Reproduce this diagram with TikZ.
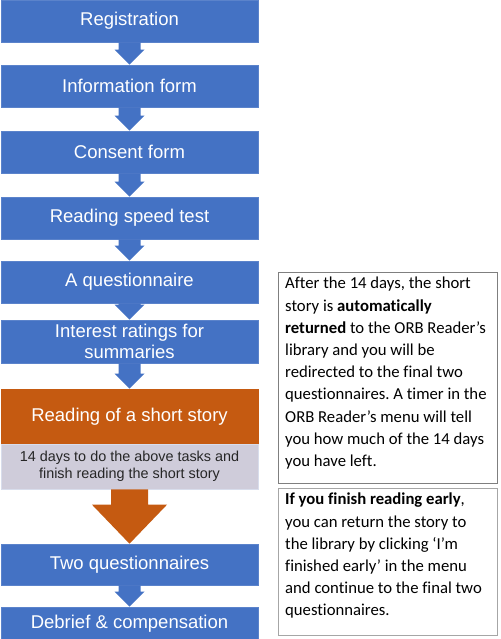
\documentclass[tikz,border=0pt]{standalone}
\usepackage{fontspec}
\setmainfont{Liberation Sans}
\newfontfamily\notefont[Ligatures={NoCommon}]{Carlito}
\usetikzlibrary{calc}
\frenchspacing

\definecolor{stepblue}{HTML}{4472C4}
\definecolor{stepedge}{HTML}{5B83CB}
\definecolor{readorange}{HTML}{C55A11}
\definecolor{periodgrey}{HTML}{CFCCDA}
\definecolor{periodedge}{HTML}{D8DDEC}
\definecolor{darkedge}{HTML}{7F7F7F}
\definecolor{lightedge}{HTML}{A6A6A6}

\tikzset{
  stepbox/.style={fill=stepblue, draw=stepedge, line width=0.6pt,
    minimum width=257pt, minimum height=#1, inner sep=0pt, text=white,
    align=center, font=\fontsize{18.5}{21}\selectfont},
  readbox/.style={stepbox=#1, fill=readorange, draw=readorange},
  periodbox/.style={fill=periodgrey, draw=periodedge, line width=0.6pt,
    minimum width=257pt, minimum height=#1, inner sep=0pt, text=black!85,
    align=center, font=\fontsize{14.4}{17.5}\selectfont},
  notebox/.style={draw=#1, line width=0.8pt, fill=white, inner sep=0pt,
    minimum width=219pt, anchor=north west},
  notetext/.style={inner sep=0pt, anchor=north west, align=left, text=black,
    font=\notefont\fontsize{16.7}{22.2}\selectfont},
}

% block arrow from the bottom of node #1 to the top of node #2
% #3 colour, #4 half shaft width, #5 half head width, #6 head length
\newcommand\blockarrow[6]{%
  \fill[#3] ($(#1.south)+(-#4,0)$) -- ($(#1.south)+(#4,0)$)
    -- ($(#2.north)+(#4,-#6)$) -- ($(#2.north)+(#5,-#6)$) -- (#2.north)
    -- ($(#2.north)+(-#5,-#6)$) -- ($(#2.north)+(-#4,-#6)$) -- cycle;}

\begin{document}
\begin{tikzpicture}[x=1pt,y=-1pt]
  \useasboundingbox (0,0) rectangle (500,639);

  % left column of steps
  \node[stepbox=42pt] (reg)      at (129.5,21)    {Registration};
  \node[stepbox=42pt] (info)     at (129.5,86)    {Information form};
  \node[stepbox=42pt] (consent)  at (129.5,152)   {Consent form};
  \node[stepbox=42pt] (speed)    at (129.5,218)   {Reading speed test};
  \node[stepbox=42pt] (quest)    at (129.5,282)   {A questionnaire};
  \node[stepbox=43pt] (interest) at (129.5,341.5) {Interest ratings for\\summaries};
  \node[readbox=55pt] (story)    at (129.5,416.5) {Reading of a short story};
  \node[periodbox=45pt] (period) at (129.5,466.5) {14 days to do the above tasks and\\finish reading the short story};
  \node[stepbox=41pt] (two)      at (129.5,564.5) {Two questionnaires};
  \node[stepbox=33pt] (debrief)  at (129.5,623.5) {Debrief \& compensation};

  \blockarrow{reg}{info}{stepblue}{11}{15}{15}
  \blockarrow{info}{consent}{stepblue}{11}{15}{15}
  \blockarrow{consent}{speed}{stepblue}{11}{15}{15}
  \blockarrow{speed}{quest}{stepblue}{11}{15}{15}
  \blockarrow{quest}{interest}{stepblue}{11}{15}{15}
  \blockarrow{interest}{story}{stepblue}{11}{15}{15}
  \blockarrow{period}{two}{readorange}{18.5}{37.5}{39}
  \blockarrow{two}{debrief}{stepblue}{11}{15}{15}

  % notes on the right
  \node[notebox=darkedge, minimum height=211pt] (afternote) at (278,272) {};
  \node[notetext] (aftertext) at ($(afternote.north west)+(7,5)$)
    {After the 14 days, the short\\
     story is \textbf{automatically}\\
     \textbf{returned} to the ORB Reader’s\\
     library and you will be\\
     redirected to the final two\\
     questionnaires. A timer in the\\
     ORB Reader’s menu will tell\\
     you how much of the 14 days\\
     you have left.};

  \node[notebox=lightedge, minimum height=147pt] (earlynote) at (278,488) {};
  \node[notetext] (earlytext) at ($(earlynote.north west)+(7,5)$)
    {\textbf{If you finish reading early},\\
     you can return the story to\\
     the library by clicking ‘I’m\\
     finished early’ in the menu\\
     and continue to the final two\\
     questionnaires.};
\end{tikzpicture}
\end{document}
